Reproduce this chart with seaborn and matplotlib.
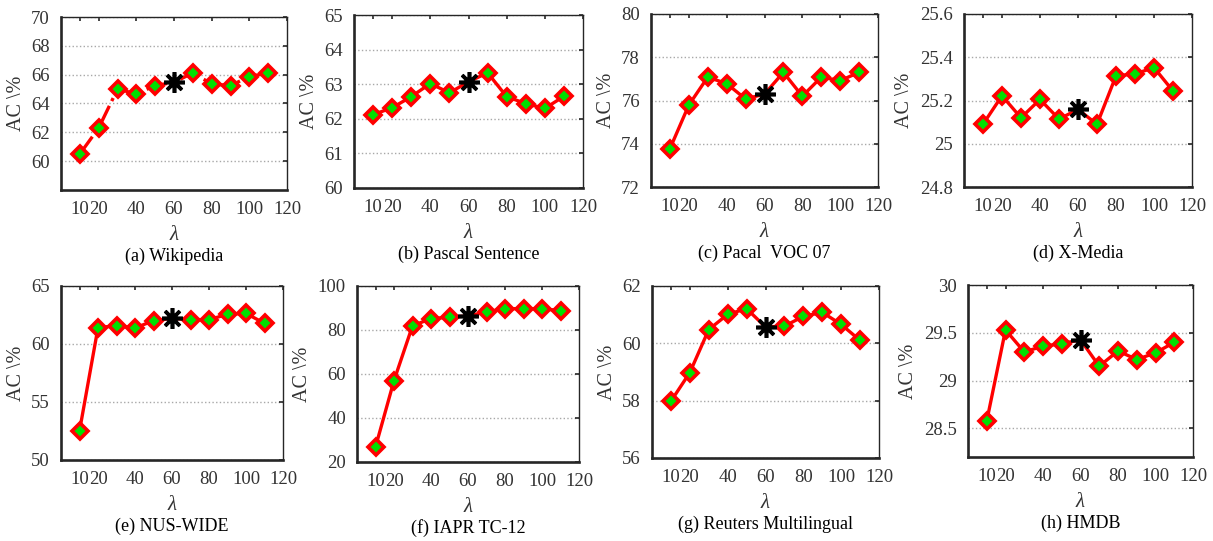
import numpy as np
import pandas as pd
import matplotlib
matplotlib.use("Agg")
import matplotlib.pyplot as plt
import seaborn as sns

# ---------------- data ----------------
lam = [10, 20, 30, 40, 50, 60, 70, 80, 90, 100, 110]
best_lambda = 60

wikipedia = [60.5, 62.3, 65.0, 64.67, 65.24, 65.47, 66.12, 65.36, 65.24, 65.87, 66.12]
pascal_sentence = [62.12, 62.32, 62.64, 63.02, 62.75, 63.07, 63.33, 62.64, 62.44, 62.30, 62.65]
pascal_voc07 = [73.77, 75.79, 77.08, 76.78, 76.07, 76.30, 77.30, 76.20, 77.08, 76.92, 77.30]
x_media = [25.09, 25.222, 25.12, 25.205, 25.114, 25.159, 25.09, 25.314, 25.323, 25.352, 25.244]
nus_wide = [52.5, 61.41, 61.58, 61.38, 62.01, 62.21, 62.10, 62.10, 62.56, 62.64, 61.78]
iapr_tc12 = [26.8, 57.0, 81.9, 85.2, 85.8, 86.4, 88.2, 89.7, 89.7, 89.7, 88.8]
reuters = [57.98, 58.98, 60.48, 61.01, 61.21, 60.57, 60.60, 60.94, 61.08, 60.66, 60.10]
hmdb = [28.576, 29.53, 29.30, 29.36, 29.385, 29.427, 29.15, 29.31, 29.22, 29.29, 29.40]

titles = ["(a) Wikipedia", "(b) Pascal Sentence", "(c) Pacal  VOC 07", "(d) X-Media",
          "(e) NUS-WIDE", "(f) IAPR TC-12", "(g) Reuters Multilingual", "(h) HMDB"]
series = [wikipedia, pascal_sentence, pascal_voc07, x_media,
          nus_wide, iapr_tc12, reuters, hmdb]
ylims = [(58, 70), (60, 65), (72, 80), (24.8, 25.6),
         (50, 65), (20, 100), (56, 62), (28.2, 30)]
yticks = [[60, 62, 64, 66, 68, 70], [60, 61, 62, 63, 64, 65], [72, 74, 76, 78, 80],
          [24.8, 25.0, 25.2, 25.4, 25.6], [50, 55, 60, 65], [20, 40, 60, 80, 100],
          [56, 58, 60, 62], [28.5, 29, 29.5, 30]]
yticklabels = [["60", "62", "64", "66", "68", "70"], ["60", "61", "62", "63", "64", "65"],
               ["72", "74", "76", "78", "80"], ["24.8", "25", "25.2", "25.4", "25.6"],
               ["50", "55", "60", "65"], ["20", "40", "60", "80", "100"],
               ["56", "58", "60", "62"], ["28.5", "29", "29.5", "30"]]
xticks = [10, 20, 40, 60, 80, 100, 120]
linestyles = ["-.", "-", "-", "-", "-", "-", "-", "-"]

# ---------------- layout (pixel boxes: left, top, right, bottom) ----------------
W, H = 1213, 541
boxes = [(61, 17, 287, 190), (354, 15, 583, 188), (651, 14, 878, 187), (964, 14, 1192, 187),
         (61, 286, 283, 460), (357, 286, 579, 462), (652, 286, 879, 458), (968, 285, 1193, 457)]

sns.set_style("white")
plt.rcParams["font.family"] = ["Liberation Serif", "DejaVu Serif"]
plt.rcParams["mathtext.fontset"] = "stix"

fig = plt.figure(figsize=(W / 100, H / 100), dpi=100)
TXT = "#333333"

for i in range(8):
    l, t, r, b = boxes[i]
    ax = fig.add_axes([l / W, 1 - b / H, (r - l) / W, (b - t) / H])
    df = pd.DataFrame({"lam": lam, "ac": series[i]})
    idx_other = [k for k, v in enumerate(lam) if v != best_lambda]
    sns.lineplot(data=df, x="lam", y="ac", ax=ax, color="#ff0000", lw=2.4,
                 linestyle=linestyles[i], marker="D", markersize=8,
                 markerfacecolor="#00e000", markeredgecolor="#ff0000",
                 markeredgewidth=2.6, markevery=idx_other)
    best = df[df["lam"] == best_lambda]
    ax.plot(best["lam"], best["ac"], linestyle="none", marker=(8, 2, 0),
            markersize=15, markeredgewidth=2.6, color="black", zorder=5)

    ax.set_xlim(0, 120)
    ax.set_ylim(*ylims[i])
    ax.set_xticks(xticks)
    ax.set_xticklabels([str(v) for v in xticks])
    ax.set_yticks(yticks[i])
    ax.set_yticklabels(yticklabels[i])
    ax.yaxis.grid(True, linestyle=":", color="#a8a8a8", lw=1.0)
    ax.xaxis.grid(False)
    ax.tick_params(direction="in", length=3, width=1.2, top=True, right=True,
                   labelsize=13.5, colors="#262626", labelcolor=TXT, pad=8)
    for name, sp in ax.spines.items():
        sp.set_color("#262626")
        sp.set_linewidth(1.9 if name in ("left", "bottom") else 1.0)
    ax.set_xlabel("λ", fontsize=15, style="italic", labelpad=6, color=TXT)
    ax.set_ylabel("AC \\%", fontsize=14.5, labelpad=4, color=TXT)
    ax.annotate(titles[i], xy=(0.5, 0), xycoords="axes fraction",
                xytext=(0, -66), textcoords="offset pixels",
                ha="center", va="center", fontsize=13, color="black")

fig.savefig("out.png", dpi=100)
